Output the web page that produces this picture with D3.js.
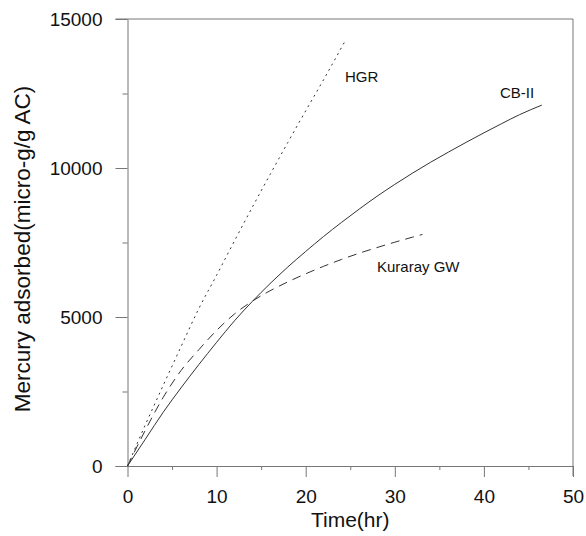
<!DOCTYPE html>
<html>
<head>
<meta charset="utf-8">
<script src="https://cdn.jsdelivr.net/npm/d3@7"></script>
<style>
  body { margin: 0; background: #fff; }
  text { font-family: "Liberation Sans", Arial, sans-serif; fill: #111; }
</style>
</head>
<body>
<svg id="chart" width="586" height="536"></svg>
<script>
// values
const hgrTime = [0, 2, 4, 6, 8, 10, 12, 14, 16, 18, 20, 22, 24.4];
const hgrValue = [0, 1380, 2700, 4000, 5280, 6400, 7550, 8680, 9780, 10860, 11920, 12960, 14250];

const cbTime = [0, 2, 4, 6, 8, 10, 12, 14, 16, 18, 20, 22, 24, 26, 28, 30, 32, 34, 36, 38, 40, 42, 44, 46.5];
const cbValue = [0, 900, 1800, 2620, 3400, 4150, 4870, 5520, 6120, 6680, 7200, 7700, 8170, 8620,
  9050, 9450, 9830, 10190, 10530, 10860, 11180, 11490, 11790, 12110];

const kurTime = [0, 2, 4, 6, 8, 10, 12, 14, 16, 18, 20, 22, 24, 26, 28, 30, 32, 33.1];
const kurValue = [0, 1200, 2300, 3200, 3900, 4550, 5100, 5530, 5880, 6180, 6450, 6700, 6930,
  7140, 7330, 7510, 7680, 7770];

const xMajorTicks = [0, 10, 20, 30, 40, 50];
const xMinorTicks = [5, 15, 25, 35, 45];
const yMajorTicks = [0, 5000, 10000, 15000];
const yMinorTicks = [2500, 7500, 12500];

const series = [
  { name: "HGR", t: hgrTime, v: hgrValue, dash: "2,4", label: [24.4, 12900] },
  { name: "CB-II", t: cbTime, v: cbValue, dash: null, label: [41.8, 12350] },
  { name: "Kuraray GW", t: kurTime, v: kurValue, dash: "9,6", label: [28, 6500] }
];

const svg = d3.select("#chart");
const plot = { left: 127.5, right: 573, top: 19, bottom: 466 };

const x = d3.scaleLinear().domain([0, 50]).range([plot.left, plot.right]);
const y = d3.scaleLinear().domain([0, 15000]).range([plot.bottom, plot.top]);

const axisColor = "#777";

// frame (top and right)
svg.append("line")
  .attr("x1", plot.left - 12).attr("x2", plot.right)
  .attr("y1", plot.top).attr("y2", plot.top)
  .attr("stroke", axisColor);
svg.append("line")
  .attr("x1", plot.right).attr("x2", plot.right)
  .attr("y1", plot.top).attr("y2", plot.bottom + 10)
  .attr("stroke", axisColor);

// x axis
const xAxis = svg.append("g")
  .attr("transform", `translate(0,${plot.bottom})`)
  .call(d3.axisBottom(x).tickValues(xMajorTicks).tickSize(11).tickSizeOuter(0).tickPadding(13));
xAxis.select(".domain").attr("stroke", axisColor).attr("d", `M${plot.left - 12},0.5H${plot.right}`);
xAxis.selectAll(".tick line").attr("stroke", axisColor);
xAxis.selectAll("text").attr("font-size", 19).attr("fill", "#111");

svg.append("g")
  .attr("transform", `translate(0,${plot.bottom})`)
  .call(d3.axisBottom(x).tickValues(xMinorTicks).tickSize(4).tickFormat(""))
  .call(g => g.select(".domain").remove())
  .selectAll("line").attr("stroke", axisColor);

// y axis
const yAxis = svg.append("g")
  .attr("transform", `translate(${plot.left},0)`)
  .call(d3.axisLeft(y).tickValues(yMajorTicks).tickFormat(d3.format("d"))
    .tickSize(12).tickSizeOuter(0).tickPadding(13));
yAxis.select(".domain").attr("stroke", axisColor);
yAxis.selectAll(".tick line").attr("stroke", axisColor);
yAxis.selectAll("text").attr("font-size", 19).attr("fill", "#111");

svg.append("g")
  .attr("transform", `translate(${plot.left},0)`)
  .call(d3.axisLeft(y).tickValues(yMinorTicks).tickSize(5).tickFormat(""))
  .call(g => g.select(".domain").remove())
  .selectAll("line").attr("stroke", axisColor);

// curves
const line = d3.line()
  .x(d => x(d[0]))
  .y(d => y(d[1]))
  .curve(d3.curveMonotoneX);

series.forEach(s => {
  const pts = s.t.map((t, i) => [t, s.v[i]]);
  svg.append("path")
    .datum(pts)
    .attr("fill", "none")
    .attr("stroke", "#333")
    .attr("stroke-width", 1)
    .attr("stroke-dasharray", s.dash)
    .attr("d", line);

  svg.append("text")
    .attr("x", x(s.label[0]))
    .attr("y", y(s.label[1]))
    .attr("font-size", 15)
    .text(s.name);
});

// axis titles
svg.append("text")
  .attr("x", (plot.left + plot.right) / 2)
  .attr("y", 527)
  .attr("text-anchor", "middle")
  .attr("font-size", 21)
  .text("Time(hr)");

svg.append("text")
  .attr("transform", `translate(30,249) rotate(-90)`)
  .attr("text-anchor", "middle")
  .attr("font-size", 22.5)
  .text("Mercury adsorbed(micro-g/g AC)");
</script>
</body>
</html>
